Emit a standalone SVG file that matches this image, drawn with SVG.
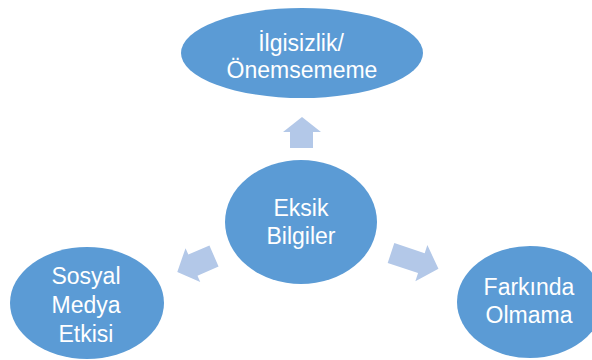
<svg xmlns="http://www.w3.org/2000/svg" width="592" height="360" viewBox="0 0 592 360">
<style>
.node{fill:#5B9BD5}
.arr{fill:#B3C8E8}
.t{font-family:"Liberation Sans",Arial,sans-serif;font-size:23px;fill:#FFFFFF;text-anchor:middle}
</style>
<rect width="592" height="360" fill="#FFFFFF"/>
<g id="connectors">
<polygon class="arr" points="302,117 321,132 313,132 313,148 290,148 290,132 283,132"/>
<polygon class="arr" transform="translate(391,253) rotate(18.4)" points="0,-10.5 32,-10.5 32,-19 50,0 32,19 32,10.5 0,10.5"/>
<polygon class="arr" transform="translate(214,256) rotate(156.6)" points="0,-11.5 23,-11.5 23,-18.5 40,0 23,18.5 23,11.5 0,11.5"/>
</g>
<g id="center">
<ellipse class="node" cx="301" cy="222" rx="76" ry="62"/>
<text class="t" x="301" y="216">Eksik</text>
<text class="t" x="301" y="244">Bilgiler</text>
</g>
<g id="top">
<ellipse class="node" cx="302" cy="53" rx="121" ry="45"/>
<text class="t" x="301" y="51">İlgisizlik/</text>
<text class="t" x="302" y="78">Önemsememe</text>
</g>
<g id="left">
<ellipse class="node" cx="87" cy="303" rx="77" ry="56"/>
<text class="t" x="86" y="284">Sosyal</text>
<text class="t" x="86" y="313">Medya</text>
<text class="t" x="86" y="342">Etkisi</text>
</g>
<g id="right">
<ellipse class="node" cx="530" cy="302" rx="73" ry="56"/>
<text class="t" x="529" y="295">Farkında</text>
<text class="t" x="529" y="323">Olmama</text>
</g>
</svg>
